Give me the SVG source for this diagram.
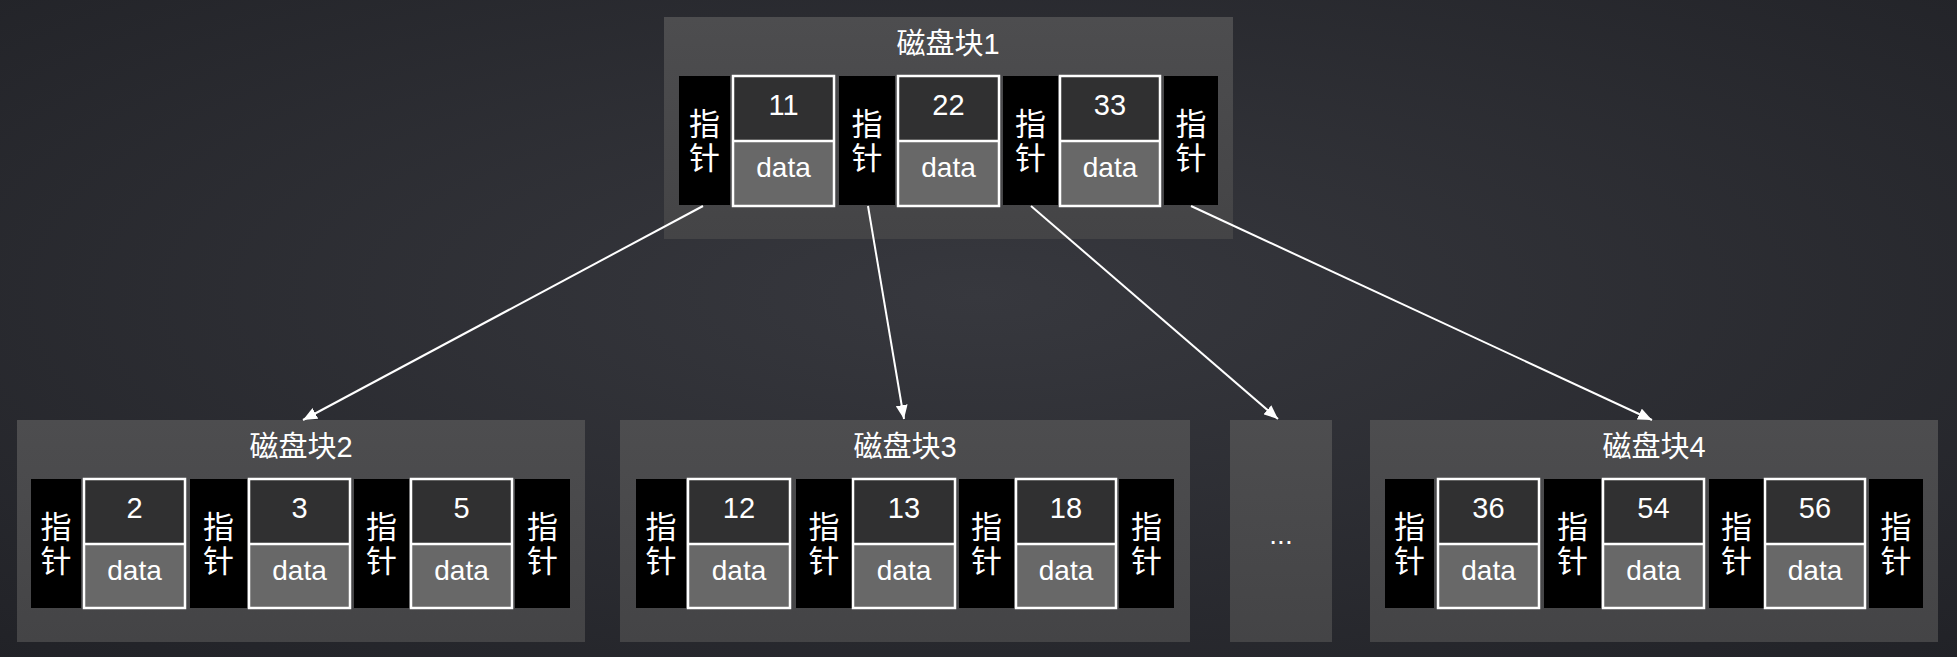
<svg xmlns="http://www.w3.org/2000/svg" width="1957" height="657" viewBox="0 0 1957 657">
<defs>
<radialGradient id="bgG" cx="50%" cy="45%" r="75%">
<stop offset="0" stop-color="#37383e"/>
<stop offset="1" stop-color="#212227"/>
</radialGradient>
<linearGradient id="panG" x1="0" y1="0" x2="0" y2="1">
<stop offset="0" stop-color="#4d4d4f"/>
<stop offset="1" stop-color="#444446"/>
</linearGradient>
<marker id="arr" markerUnits="userSpaceOnUse" markerWidth="16" markerHeight="12" refX="14" refY="6" orient="auto">
<path d="M0,0 L14,6 L0,12 z" fill="#ffffff"/>
</marker>
<style>
.panel{fill:url(#panG)}
.ptr{fill:#000000}
.ktop{fill:#303031}
.kbot{fill:#686868}
.kbox{fill:none;stroke:#ffffff;stroke-width:2.5}
.num{font-family:"Liberation Sans",Arial,sans-serif;font-size:29px;fill:#ffffff;text-anchor:middle}
.dat{font-family:"Liberation Sans",Arial,sans-serif;font-size:28px;fill:#ffffff;text-anchor:middle}
.vp{font-family:"Noto Sans CJK SC","Noto Sans",sans-serif;font-size:31px;fill:#ffffff;text-anchor:middle;writing-mode:vertical-rl;letter-spacing:3px}
.ttl{font-family:"Liberation Sans","Noto Sans CJK SC",sans-serif;font-size:29px;fill:#ffffff;text-anchor:middle}
.conn{stroke:#ffffff;stroke-width:2;fill:none}
</style>
</defs>
<rect width="1957" height="657" fill="url(#bgG)"/>

<g id="block1">
<rect class="panel" x="664" y="17" width="569" height="222"/>
<text class="ttl" x="948" y="54"><tspan font-family="Noto Sans CJK SC">磁盘块</tspan>1</text>
<rect class="ptr" x="679" y="76" width="51" height="129"/>
<text class="vp" x="704.5" y="142">指针</text>
<rect class="ktop" x="733" y="76" width="101" height="65"/><rect class="kbot" x="733" y="141" width="101" height="65"/>
<rect class="kbox" x="733" y="76" width="101" height="130"/><line class="kbox" x1="733" y1="141" x2="834" y2="141"/>
<text class="num" x="783.5" y="115">11</text><text class="dat" x="783.5" y="177">data</text>
<rect class="ptr" x="839" y="76" width="56" height="129"/>
<text class="vp" x="867" y="142">指针</text>
<rect class="ktop" x="898" y="76" width="101" height="65"/><rect class="kbot" x="898" y="141" width="101" height="65"/>
<rect class="kbox" x="898" y="76" width="101" height="130"/><line class="kbox" x1="898" y1="141" x2="999" y2="141"/>
<text class="num" x="948.5" y="115">22</text><text class="dat" x="948.5" y="177">data</text>
<rect class="ptr" x="1003" y="76" width="55" height="129"/>
<text class="vp" x="1030.5" y="142">指针</text>
<rect class="ktop" x="1060" y="76" width="100" height="65"/><rect class="kbot" x="1060" y="141" width="100" height="65"/>
<rect class="kbox" x="1060" y="76" width="100" height="130"/><line class="kbox" x1="1060" y1="141" x2="1160" y2="141"/>
<text class="num" x="1110" y="115">33</text><text class="dat" x="1110" y="177">data</text>
<rect class="ptr" x="1164" y="76" width="54" height="129"/>
<text class="vp" x="1191" y="142">指针</text>
</g>

<g id="block2">
<rect class="panel" x="17" y="420" width="568" height="222"/>
<text class="ttl" x="301" y="457"><tspan font-family="Noto Sans CJK SC">磁盘块</tspan>2</text>
<rect class="ptr" x="31" y="479" width="50" height="129"/>
<text class="vp" x="56" y="545">指针</text>
<rect class="ktop" x="84" y="479" width="101" height="65"/><rect class="kbot" x="84" y="544" width="101" height="64"/>
<rect class="kbox" x="84" y="479" width="101" height="129"/><line class="kbox" x1="84" y1="544" x2="185" y2="544"/>
<text class="num" x="134.5" y="518">2</text><text class="dat" x="134.5" y="580">data</text>
<rect class="ptr" x="190" y="479" width="57" height="129"/>
<text class="vp" x="218.5" y="545">指针</text>
<rect class="ktop" x="249" y="479" width="101" height="65"/><rect class="kbot" x="249" y="544" width="101" height="64"/>
<rect class="kbox" x="249" y="479" width="101" height="129"/><line class="kbox" x1="249" y1="544" x2="350" y2="544"/>
<text class="num" x="299.5" y="518">3</text><text class="dat" x="299.5" y="580">data</text>
<rect class="ptr" x="354" y="479" width="55" height="129"/>
<text class="vp" x="381.5" y="545">指针</text>
<rect class="ktop" x="411" y="479" width="101" height="65"/><rect class="kbot" x="411" y="544" width="101" height="64"/>
<rect class="kbox" x="411" y="479" width="101" height="129"/><line class="kbox" x1="411" y1="544" x2="512" y2="544"/>
<text class="num" x="461.5" y="518">5</text><text class="dat" x="461.5" y="580">data</text>
<rect class="ptr" x="515" y="479" width="55" height="129"/>
<text class="vp" x="542.5" y="545">指针</text>
</g>

<g id="block3">
<rect class="panel" x="620" y="420" width="570" height="222"/>
<text class="ttl" x="905" y="457"><tspan font-family="Noto Sans CJK SC">磁盘块</tspan>3</text>
<rect class="ptr" x="636" y="479" width="50" height="129"/>
<text class="vp" x="661" y="545">指针</text>
<rect class="ktop" x="688" y="479" width="102" height="65"/><rect class="kbot" x="688" y="544" width="102" height="64"/>
<rect class="kbox" x="688" y="479" width="102" height="129"/><line class="kbox" x1="688" y1="544" x2="790" y2="544"/>
<text class="num" x="739" y="518">12</text><text class="dat" x="739" y="580">data</text>
<rect class="ptr" x="796" y="479" width="56" height="129"/>
<text class="vp" x="824" y="545">指针</text>
<rect class="ktop" x="853" y="479" width="102" height="65"/><rect class="kbot" x="853" y="544" width="102" height="64"/>
<rect class="kbox" x="853" y="479" width="102" height="129"/><line class="kbox" x1="853" y1="544" x2="955" y2="544"/>
<text class="num" x="904" y="518">13</text><text class="dat" x="904" y="580">data</text>
<rect class="ptr" x="959" y="479" width="55" height="129"/>
<text class="vp" x="986.5" y="545">指针</text>
<rect class="ktop" x="1016" y="479" width="100" height="65"/><rect class="kbot" x="1016" y="544" width="100" height="64"/>
<rect class="kbox" x="1016" y="479" width="100" height="129"/><line class="kbox" x1="1016" y1="544" x2="1116" y2="544"/>
<text class="num" x="1066" y="518">18</text><text class="dat" x="1066" y="580">data</text>
<rect class="ptr" x="1119" y="479" width="55" height="129"/>
<text class="vp" x="1146.5" y="545">指针</text>
</g>

<g id="block-more">
<rect class="panel" x="1230" y="420" width="102" height="222"/>
<text class="dat" x="1281" y="544" font-size="26">...</text>
</g>

<g id="block4">
<rect class="panel" x="1370" y="420" width="568" height="222"/>
<text class="ttl" x="1654" y="457"><tspan font-family="Noto Sans CJK SC">磁盘块</tspan>4</text>
<rect class="ptr" x="1385" y="479" width="49" height="129"/>
<text class="vp" x="1409.5" y="545">指针</text>
<rect class="ktop" x="1438" y="479" width="101" height="65"/><rect class="kbot" x="1438" y="544" width="101" height="64"/>
<rect class="kbox" x="1438" y="479" width="101" height="129"/><line class="kbox" x1="1438" y1="544" x2="1539" y2="544"/>
<text class="num" x="1488.5" y="518">36</text><text class="dat" x="1488.5" y="580">data</text>
<rect class="ptr" x="1544" y="479" width="57" height="129"/>
<text class="vp" x="1572.5" y="545">指针</text>
<rect class="ktop" x="1603" y="479" width="101" height="65"/><rect class="kbot" x="1603" y="544" width="101" height="64"/>
<rect class="kbox" x="1603" y="479" width="101" height="129"/><line class="kbox" x1="1603" y1="544" x2="1704" y2="544"/>
<text class="num" x="1653.5" y="518">54</text><text class="dat" x="1653.5" y="580">data</text>
<rect class="ptr" x="1709" y="479" width="55" height="129"/>
<text class="vp" x="1736.5" y="545">指针</text>
<rect class="ktop" x="1765" y="479" width="100" height="65"/><rect class="kbot" x="1765" y="544" width="100" height="64"/>
<rect class="kbox" x="1765" y="479" width="100" height="129"/><line class="kbox" x1="1765" y1="544" x2="1865" y2="544"/>
<text class="num" x="1815" y="518">56</text><text class="dat" x="1815" y="580">data</text>
<rect class="ptr" x="1869" y="479" width="54" height="129"/>
<text class="vp" x="1896" y="545">指针</text>
</g>

<g id="connectors">
<line class="conn" x1="703" y1="206" x2="303" y2="420" marker-end="url(#arr)"/>
<line class="conn" x1="868" y1="206" x2="904" y2="419" marker-end="url(#arr)"/>
<line class="conn" x1="1031" y1="206" x2="1278" y2="419" marker-end="url(#arr)"/>
<line class="conn" x1="1191" y1="206" x2="1652" y2="420" marker-end="url(#arr)"/>
</g>
</svg>
